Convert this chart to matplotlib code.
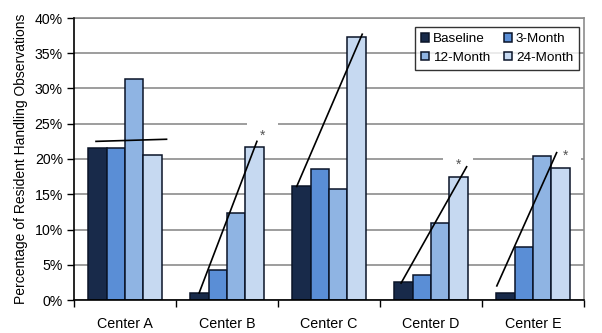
import matplotlib
matplotlib.use("Agg")
import matplotlib.pyplot as plt
import numpy as np
from matplotlib.ticker import FuncFormatter, MultipleLocator, FixedLocator

plt.rcParams['font.family'] = ['Liberation Sans', 'DejaVu Sans']

centers = ["Center A", "Center B", "Center C", "Center D", "Center E"]
series_names = ["Baseline", "3-Month", "12-Month", "24-Month"]
baseline = [21.6, 1.0, 16.2, 2.6, 1.0]
month3 = [21.6, 4.2, 18.6, 3.6, 7.5]
month12 = [31.4, 12.3, 15.7, 10.9, 20.4]
month24 = [20.6, 21.7, 37.3, 17.4, 18.7]
colors = ["#182a4a", "#5a8ed6", "#8fb4e3", "#c6d9f1"]

# hand-drawn trend lines: start/end position (in bar widths from group centre) and value (%)
trend_x0 = [-1.57, -1.51, -1.75, -1.62, -1.96]
trend_x1 = [2.25, 1.62, 1.80, 1.93, 1.28]
trend_y0 = [22.5, 1.0, 16.1, 2.4, 2.0]
trend_y1 = [22.8, 22.5, 37.7, 18.9, 20.9]

# significance asterisks: centre index, offset (category units), value (%)
star_idx = [1, 3, 4]
star_dx = [0.35, 0.265, 0.315]
star_y = [23.3, 19.2, 20.4]

fig = plt.figure(figsize=(6.02, 3.33), dpi=100)
ax = fig.add_axes([74/602, 1-300/333, 510/602, 282/333])

x = np.arange(len(centers))
w = 0.181
all_series = [baseline, month3, month12, month24]
handles = []
for i, (vals, c) in enumerate(zip(all_series, colors)):
    b = ax.bar(x + (i - 1.5) * w, vals, width=w, color=c, edgecolor="#0a1428",
               linewidth=1.1, label=series_names[i], zorder=2)
    handles.append(b)

for k in range(len(centers)):
    xs = [x[k] + trend_x0[k] * w, x[k] + trend_x1[k] * w]
    ys = [trend_y0[k], trend_y1[k]]
    ax.plot(xs, ys, color="black", lw=1.2, zorder=4)

for idx, dx, yv in zip(star_idx, star_dx, star_y):
    ax.text(x[idx] + dx, yv, "*", ha="center", va="center", fontsize=10, color="#555555",
            zorder=1.5,
            bbox=dict(boxstyle="square,pad=0.92", mutation_aspect=0.6,
                      facecolor="white", edgecolor="none"))

ax.set_xlim(-0.5, len(centers) - 0.5)
ax.set_ylim(0, 40)
ax.yaxis.set_major_locator(MultipleLocator(5))
ax.yaxis.set_major_formatter(FuncFormatter(lambda v, p: f"{int(round(v))}%"))
ax.grid(axis="y", color="#8c8c8c", lw=1.2, zorder=0.5)
ax.set_axisbelow(True)

ax.set_xticks(x)
ax.set_xticklabels(centers, fontsize=10.3)
ax.xaxis.set_minor_locator(FixedLocator(np.arange(-0.5, len(centers), 1.0)))
ax.tick_params(axis="x", which="major", length=0, pad=12)
ax.tick_params(axis="x", which="minor", length=5, width=1, color="black", direction="out")
ax.tick_params(axis="y", length=5, width=1, direction="out", labelsize=10.2, pad=3)

for s in ["left", "bottom"]:
    ax.spines[s].set_color("black")
    ax.spines[s].set_linewidth(1.2)
for s in ["top", "right"]:
    ax.spines[s].set_color("#8c8c8c")
    ax.spines[s].set_linewidth(1.2)
ax.spines["left"].set_zorder(5)
ax.spines["bottom"].set_zorder(5)

ax.set_ylabel("Percentage of Resident Handling Observations", fontsize=10, labelpad=5)

order = [0, 2, 1, 3]
leg = ax.legend([handles[i] for i in order], [series_names[i] for i in order], ncol=2,
                loc="upper left", bbox_to_anchor=((415-74)/510, (300-27)/282),
                fontsize=9.7, frameon=True, fancybox=False, edgecolor="black",
                handlelength=0.6, handleheight=0.6, handletextpad=0.3,
                columnspacing=1.0, labelspacing=0.5, borderpad=0.45, borderaxespad=0)
leg.get_frame().set_linewidth(1.0)
leg.set_zorder(6)

fig.savefig("out.png", dpi=100)
